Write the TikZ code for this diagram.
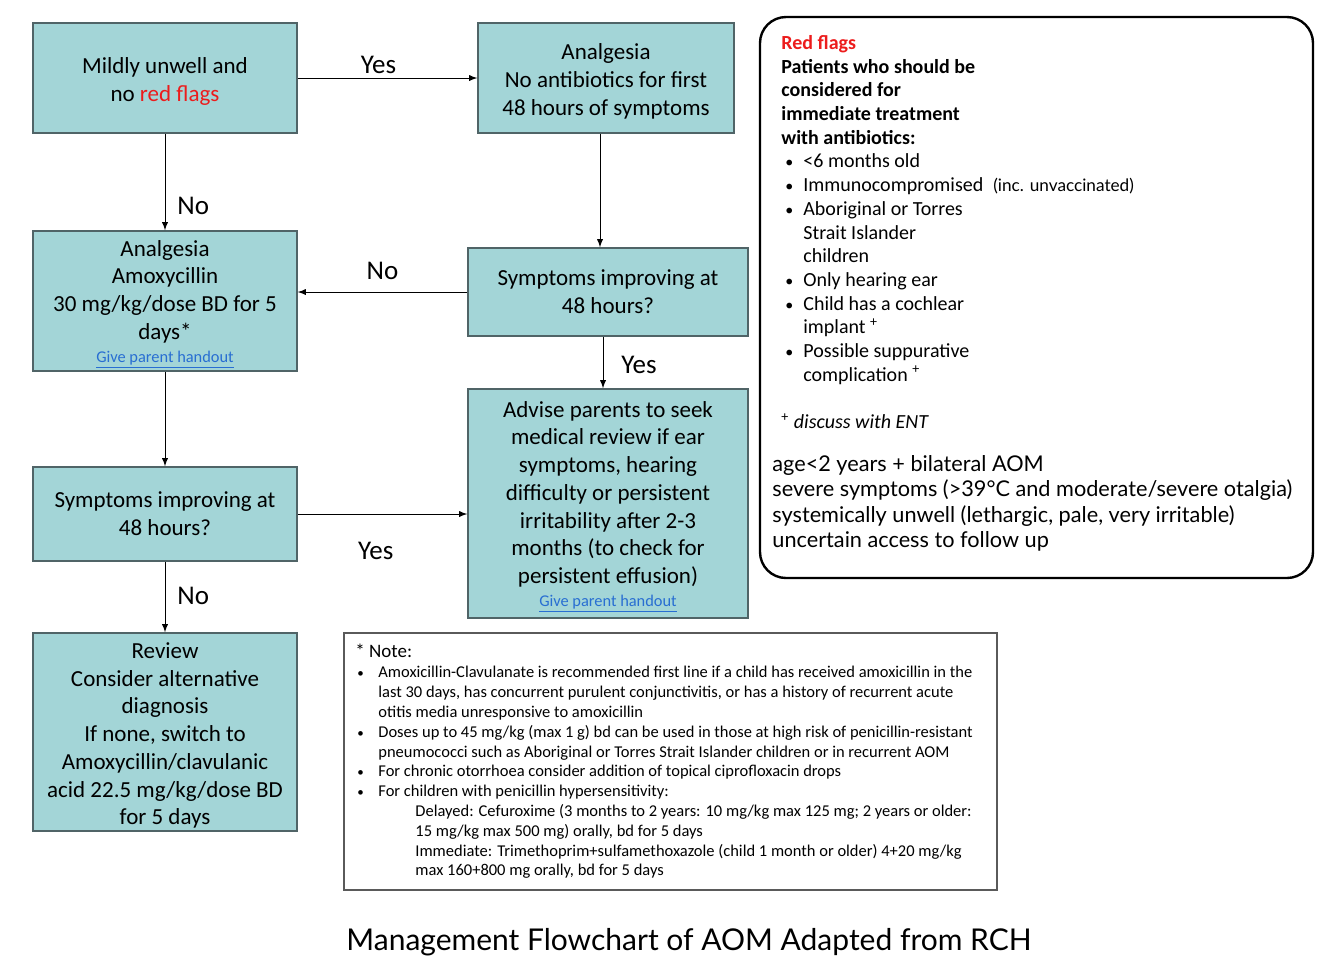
\documentclass[tikz,border=0pt]{standalone}
\usepackage{fontspec}
\setmainfont{Carlito}
\newfontfamily\sketchfont{Lato}
\usetikzlibrary{positioning}

\definecolor{boxfill}{RGB}{163,213,215}
\definecolor{boxline}{RGB}{80,100,103}
\definecolor{flagred}{RGB}{236,28,28}
\definecolor{linkblue}{RGB}{40,110,210}
\definecolor{notegray}{RGB}{90,90,90}

\newcommand{\boxstrut}{\rule{0pt}{11.5pt}}
\newcommand{\handout}{\\[-2.5pt]{\fontsize{8.2}{9}\selectfont\color{linkblue}\underline{Give parent handout}}}
\newcommand{\flagitem}{\makebox[11pt][l]{\hspace{2pt}{\fontsize{8}{8}\selectfont\textbullet}}}
\newcommand{\flagcont}{\hspace*{11pt}}
\newcommand{\noteitem}{\makebox[11.5pt][l]{\hspace{1pt}{\fontsize{6.5}{6.5}\selectfont\textbullet}}}
\newcommand{\notecont}{\hspace*{11.5pt}}
\newcommand{\notesub}{\hspace*{30pt}}

\begin{document}
\begin{tikzpicture}[x=0.5pt, y=-0.5pt, >=latex,
                          flowbox/.style={rectangle, draw=boxline, fill=boxfill, line width=0.8pt, inner sep=0pt, align=center, font=\fontsize{11.5}{13.85}\selectfont},
                          branchlabel/.style={font=\fontsize{13.5}{15}\selectfont, inner sep=2pt},
                          flagframe/.style={rectangle, draw, rounded corners=13pt, line width=1.2pt, inner sep=0pt},
                          noteframe/.style={rectangle, draw=notegray, line width=0.8pt, inner sep=0pt},
                      ]
                      \useasboundingbox (0,0) rectangle (1323,971);
                      % Nodes
                      \node[flowbox, minimum width=132pt, minimum height=55pt]    (mildly_unwell)   at (165,78)    {\boxstrut Mildly unwell and\\ no {\color{flagred}red flags}};
                      \node[flowbox, minimum width=128pt, minimum height=55pt]    (analgesia_only)  at (606,78)    {\boxstrut Analgesia\\No antibiotics for first\\48 hours of symptoms};
                      \node[flowbox, minimum width=132pt, minimum height=70pt]    (amoxycillin)     at (165,301)   {\boxstrut Analgesia\\Amoxycillin\\30 mg/kg/dose BD for 5\\days*\handout};
                      \node[flowbox, minimum width=140pt, minimum height=44pt]    (improving_right) at (608,292)   {Symptoms improving at\\48 hours?};
                      \node[flowbox, minimum width=140pt, minimum height=114.5pt] (advise_parents)  at (608,503.5) {\boxstrut Advise parents to seek\\medical review if ear\\symptoms, hearing\\difficulty or persistent\\irritability after 2-3\\months (to check for\\persistent effusion)\handout};
                      \node[flowbox, minimum width=132pt, minimum height=47pt]    (improving_left)  at (165,514)   {Symptoms improving at\\48 hours?};
                      \node[flowbox, minimum width=132pt, minimum height=99pt]    (review)          at (165,732)   {\boxstrut Review\\Consider alternative\\diagnosis\\If none, switch to\\Amoxycillin/clavulanic\\acid 22.5 mg/kg/dose BD\\for 5 days};

                      % Red flags panel
                      \node[flagframe, minimum width=276.5pt, minimum height=280.5pt] (flag_panel) at (1036.5,297.5) {};
                      \node[anchor=north west, inner sep=0pt, align=left, font=\fontsize{10}{11.85}\selectfont] (flag_list) at (781,35) {%
                          {\bfseries\color{flagred}Red flags}\\
                          \textbf{Patients who should be}\\
                          \textbf{considered for}\\
                          \textbf{immediate treatment}\\
                          \textbf{with antibiotics:}\\
                          \flagitem <6 months old\\
                          \flagitem Immunocompromised\hspace{5pt}{\sketchfont\fontsize{8.6}{9}\selectfont(inc. unvaccinated)}\\
                          \flagitem Aboriginal or Torres\\
                          \flagcont Strait Islander\\
                          \flagcont children\\
                          \flagitem Only hearing ear\\
                          \flagitem Child has a cochlear\\
                          \flagcont implant \textsuperscript{+}\\
                          \flagitem Possible suppurative\\
                          \flagcont complication \textsuperscript{+}\\[12pt]
                          \textsuperscript{+} \textit{discuss with ENT}};
                      \node[anchor=north west, inner sep=0pt, align=left, font=\sketchfont\fontsize{10.85}{12.7}\selectfont] (flag_extra) at (772,455) {%
                          age<2 years + bilateral AOM\\
                          severe symptoms (>39°C and moderate/severe otalgia)\\
                          systemically unwell (lethargic, pale, very irritable)\\
                          uncertain access to follow up};

                      % Note panel
                      \node[noteframe, minimum width=326.5pt, minimum height=128.5pt] (note_panel) at (670.5,761.5) {};
                      \node[anchor=north west, inner sep=0pt, font=\fontsize{9.5}{11}\selectfont] (note_title) at (355,644) {* Note:};
                      \node[anchor=north west, inner sep=0pt, align=left, font=\fontsize{8.25}{9.9}\selectfont] (note_body) at (355,666) {%
                          \noteitem Amoxicillin-Clavulanate is recommended first line if a child has received amoxicillin in the\\
                          \notecont last 30 days, has concurrent purulent conjunctivitis, or has a history of recurrent acute\\
                          \notecont otitis media unresponsive to amoxicillin\\
                          \noteitem Doses up to 45 mg/kg (max 1 g) bd can be used in those at high risk of penicillin-resistant\\
                          \notecont pneumococci such as Aboriginal or Torres Strait Islander children or in recurrent AOM\\
                          \noteitem For chronic otorrhoea consider addition of topical ciprofloxacin drops\\
                          \noteitem For children with penicillin hypersensitivity:\\
                          \notesub Delayed: Cefuroxime (3 months to 2 years: 10 mg/kg max 125 mg; 2 years or older:\\
                          \notesub 15 mg/kg max 500 mg) orally, bd for 5 days\\
                          \notesub Immediate: Trimethoprim+sulfamethoxazole (child 1 month or older) 4+20 mg/kg\\
                          \notesub max 160+800 mg orally, bd for 5 days};

                      \node[font=\sketchfont\fontsize{15}{18}\selectfont] (caption) at (689,942) {Management Flowchart of AOM Adapted from RCH};

                      %Lines
                      \draw[->] (mildly_unwell.east) -- node[branchlabel, pos=0.45, above] {Yes} (analgesia_only.west);
                      \draw[->] (mildly_unwell.south) -- node[branchlabel, pos=0.75, right, xshift=4pt] {No} (amoxycillin.north);
                      \draw[->] ([xshift=-3pt]analgesia_only.south) -- ([xshift=-3pt]analgesia_only.south |- improving_right.north);
                      \draw[->] (improving_right.west) -- node[branchlabel, pos=0.5, above, yshift=4pt] {No} (improving_right.west -| amoxycillin.east);
                      \draw[->] ([xshift=-2.5pt]improving_right.south) -- node[branchlabel, pos=0.55, right, xshift=7pt] {Yes} ([xshift=-2.5pt]improving_right.south |- advise_parents.north);
                      \draw[->] (amoxycillin.south) -- (improving_left.north);
                      \draw[->] (improving_left.east) -- node[branchlabel, pos=0.46, below, yshift=-12pt] {Yes} (improving_left.east -| advise_parents.west);
                      \draw[->] (improving_left.south) -- node[branchlabel, pos=0.49, right, xshift=4pt] {No} (review.north);
\end{tikzpicture}
\end{document}
